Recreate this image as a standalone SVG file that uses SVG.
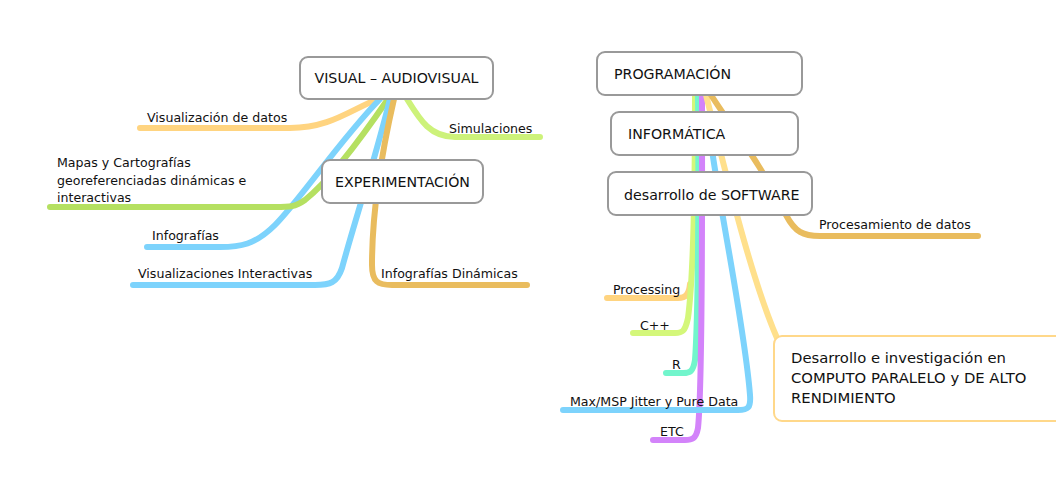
<svg xmlns="http://www.w3.org/2000/svg" width="1056" height="485" viewBox="0 0 1056 485">
<style>
.c{fill:none;stroke-width:6;stroke-linecap:round;stroke-linejoin:round}
.box{fill:#fff;stroke:#999;stroke-width:2}
.t{font-family:"DejaVu Sans",sans-serif;font-size:12.6px;fill:#111}
.n{font-family:"DejaVu Sans",sans-serif;font-size:14.2px;fill:#111}
</style>
<rect width="1056" height="485" fill="#fff"/>
<g id="connectors">
<path class="c" stroke="#FFD480" d="M140,128 L290,128 C330,128 350,110 378,99"/>
<path class="c" stroke="#CDF27A" d="M407,99 C420,120 430,137 455,137 L540,137"/>
<path class="c" stroke="#7DD3FC" d="M380,99 C340,140 300,200 275,225 C255,245 240,247 220,247 L147,247"/>
<path class="c" stroke="#B5E061" d="M388,99 C360,140 330,180 305,200 C295,207 290,207 275,207 L50,207"/>
<path class="c" stroke="#7DD3FC" d="M390,99 C375,160 355,220 342,268 C337,283 330,285 315,285 L133,285"/>
<path class="c" stroke="#E9BC5E" d="M394,99 C380,160 372,220 372,265 C372,282 378,285 392,285 L527,285"/>
<path class="c" stroke="#FFD480" d="M690,284 C689,294 686,298 678,298 L607,298"/>
<path class="c" stroke="#D4F77A" d="M695,95 C695,200 693,280 688,318 C685,332 682,333 675,333 L633,333"/>
<path class="c" stroke="#72F5CC" d="M698,95 C699,200 698,320 695,360 C693,372 690,373 683,373 L666,373"/>
<path class="c" stroke="#D383FA" d="M702,95 C702,200 703,380 698,428 C696,439 692,440 685,440 L653,440"/>
<path class="c" stroke="#7DD3FC" d="M712,150 C722,220 745,330 750,395 C751,408 748,410 738,410 L563,410"/>
<path class="c" stroke="#FFE08C" d="M706,95 C730,190 752,280 777,338"/>
<path class="c" stroke="#E9BC5E" d="M711,95 C730,125 762,165 786,215 C795,232 803,236 820,236 L978,236"/>
</g>
<g id="visual">
<rect class="box" x="300" y="57" width="193" height="42" rx="8"/>
<text class="n" x="396.5" y="83" text-anchor="middle">VISUAL – AUDIOVISUAL</text>
</g>
<g id="experimentacion">
<rect class="box" x="322" y="160" width="161" height="43" rx="8"/>
<text class="n" x="402.5" y="187" text-anchor="middle">EXPERIMENTACIÓN</text>
</g>
<g id="programacion">
<rect class="box" x="597" y="52" width="205" height="43" rx="8"/>
<text class="n" x="614" y="79">PROGRAMACIÓN</text>
</g>
<g id="informatica">
<rect class="box" x="611" y="112" width="187" height="43" rx="8"/>
<text class="n" x="628" y="139">INFORMÁTICA</text>
</g>
<g id="software">
<rect class="box" x="608" y="172" width="204" height="43" rx="8"/>
<text class="n" x="624" y="200">desarrollo de SOFTWARE</text>
</g>
<g id="computo">
<rect x="774" y="336" width="300" height="85" rx="8" fill="#fff" stroke="#FFD88A" stroke-width="2"/>
<text class="n" x="791" y="363" style="font-size:14.8px">Desarrollo e investigación en</text>
<text class="n" x="791" y="383" style="font-size:14.8px">COMPUTO PARALELO y DE ALTO</text>
<text class="n" x="791" y="403" style="font-size:14.8px">RENDIMIENTO</text>
</g>
<g id="labels">
<text class="t" x="147" y="122">Visualización de datos</text>
<text class="t" x="449" y="133">Simulaciones</text>
<text class="t" x="57" y="167">Mapas y Cartografías</text>
<text class="t" x="57" y="185">georeferenciadas dinámicas e</text>
<text class="t" x="57" y="202">interactivas</text>
<text class="t" x="152" y="240">Infografías</text>
<text class="t" x="138" y="278">Visualizaciones Interactivas</text>
<text class="t" x="381" y="278">Infografías Dinámicas</text>
<text class="t" x="819" y="229">Procesamiento de datos</text>
<text class="t" x="613" y="294">Processing</text>
<text class="t" x="640" y="330">C++</text>
<text class="t" x="672" y="369">R</text>
<text class="t" x="570" y="406">Max/MSP Jitter y Pure Data</text>
<text class="t" x="660" y="436">ETC</text>
</g>
</svg>
